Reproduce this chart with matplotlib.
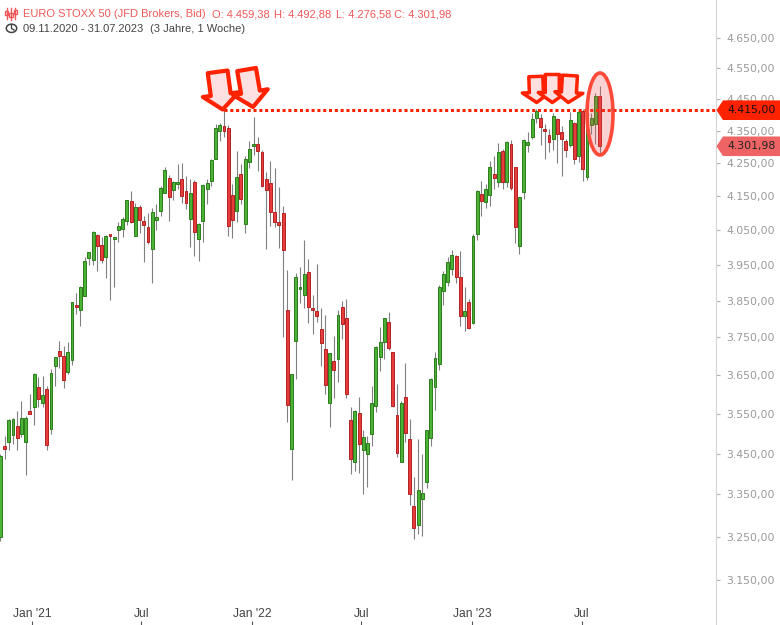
import matplotlib
matplotlib.use('Agg')
import matplotlib.pyplot as plt
import matplotlib.dates as mdates
from matplotlib.patches import Polygon, Ellipse, Circle
from matplotlib.ticker import FixedLocator, NullLocator, FuncFormatter
import numpy as np
import pandas as pd

# ---------------- data (weekly candles, EURO STOXX 50) ----------------
start_date = '2020-11-09'
opens = [3249, 3469, 3479, 3496, 3519, 3499, 3479, 3557, 3567, 3619,
         3578, 3614, 3512, 3674, 3714, 3701, 3658, 3690, 3839, 3825,
         3863, 3970, 3965, 4037, 4008, 3973, 4039, 4025, 4051, 4054,
         4077, 4136, 4034, 4119, 4077, 4060, 3996, 4080, 4107, 4160,
         4205, 4169, 4187, 4202, 4166, 4083, 4193, 4025, 4077, 4172,
         4196, 4263, 4349, 4365, 4359, 4154, 4107, 4217, 4069, 4254,
         4303, 4309, 4285, 4202, 4190, 4104, 4075, 4101, 3825, 3461,
         3740, 3884, 3866, 3931, 3828, 3822, 3773, 3719, 3578, 3687,
         3693, 3833, 3803, 3534, 3429, 3552, 3459, 3449, 3499, 3570,
         3698, 3738, 3792, 3711, 3547, 3429, 3593, 3487, 3322, 3277,
         3339, 3380, 3489, 3619, 3680, 3877, 3903, 3939, 3976, 3917,
         3808, 3847, 3789, 4039, 4157, 4133, 4154, 4217, 4193, 4288,
         4193, 4309, 4238, 4005, 4163, 4306, 4331, 4391, 4391, 4356,
         4337, 4325, 4388, 4346, 4319, 4306, 4375, 4272, 4413, 4208,
         4368, 4371, 4459.38]
highs = [3450, 3494, 3537, 3539, 3557, 3583, 3544, 3601, 3655, 3645,
         3648, 3622, 3666, 3698, 3740, 3727, 3738, 3847, 3872, 3892,
         3973, 3988, 4048, 4039, 4031, 4037, 4039, 4028, 4075, 4090,
         4139, 4166, 4130, 4125, 4092, 4101, 4116, 4128, 4181, 4238,
         4214, 4196, 4248, 4251, 4211, 4202, 4199, 4072, 4187, 4202,
         4263, 4371, 4374, 4415, 4368, 4187, 4288, 4248, 4272, 4319,
         4394, 4331, 4291, 4223, 4257, 4235, 4178, 4122, 3936, 3653,
         3928, 3945, 4022, 3967, 3866, 3953, 3830, 3811, 3709, 3754,
         3825, 3850, 3855, 3567, 3560, 3593, 3509, 3494, 3622, 3727,
         3778, 3803, 3820, 3711, 3627, 3583, 3682, 3537, 3393, 3487,
         3449, 3509, 3643, 3711, 3894, 3933, 3973, 3993, 3979, 3990,
         3889, 3855, 4040, 4169, 4196, 4187, 4257, 4272, 4312, 4294,
         4319, 4322, 4238, 4148, 4325, 4346, 4406, 4418, 4403, 4371,
         4356, 4406, 4391, 4365, 4325, 4409, 4378, 4415, 4419, 4410,
         4406, 4469, 4492.88]
lows = [3240, 3437, 3459, 3474, 3459, 3491, 3398, 3549, 3522, 3567,
        3567, 3459, 3499, 3622, 3669, 3617, 3653, 3677, 3814, 3781,
        3863, 3950, 3950, 3933, 3956, 3914, 3852, 3889, 4016, 4031,
        4066, 4072, 4034, 4042, 3959, 4010, 3900, 4051, 4092, 4160,
        4077, 4139, 4172, 4130, 4113, 4002, 3976, 3962, 4016, 4128,
        4181, 4263, 4319, 4331, 4034, 4028, 4075, 4128, 4042, 4235,
        4275, 4226, 4178, 3996, 4063, 4060, 3999, 3751, 3529, 3385,
        3640, 3844, 3830, 3789, 3759, 3792, 3674, 3601, 3517, 3591,
        3632, 3746, 3591, 3400, 3407, 3402, 3351, 3367, 3469, 3554,
        3661, 3693, 3716, 3567, 3442, 3429, 3479, 3325, 3244, 3256,
        3251, 3366, 3469, 3560, 3664, 3839, 3892, 3922, 3900, 3781,
        3767, 3773, 3787, 4022, 4092, 4116, 4122, 4172, 4178, 4172,
        4178, 4169, 4013, 3982, 4142, 4285, 4325, 4375, 4306, 4263,
        4285, 4291, 4250, 4211, 4269, 4300, 4248, 4254, 4196, 4200,
        4340, 4309, 4276.58]
closes = [3444, 3461, 3534, 3537, 3489, 3539, 3539, 3549, 3653, 3588,
          3598, 3471, 3656, 3698, 3701, 3637, 3711, 3847, 3833, 3889,
          3962, 3988, 4045, 4005, 3965, 4034, 4034, 4028, 4063, 4084,
          4139, 4075, 4119, 4080, 4066, 4016, 4104, 4089, 4175, 4229,
          4148, 4193, 4193, 4151, 4130, 4160, 4045, 4069, 4184, 4190,
          4260, 4359, 4368, 4349, 4063, 4080, 4208, 4142, 4263, 4294,
          4308, 4288, 4181, 4169, 4104, 4075, 4066, 3993, 3573, 3653,
          3917, 3889, 3925, 3833, 3825, 3808, 3735, 3624, 3709, 3664,
          3811, 3787, 3601, 3437, 3557, 3474, 3491, 3476, 3578, 3724,
          3738, 3803, 3722, 3570, 3451, 3578, 3502, 3351, 3270, 3361,
          3353, 3509, 3640, 3695, 3889, 3925, 3959, 3979, 3917, 3808,
          3822, 3776, 4034, 4166, 4136, 4172, 4238, 4205, 4285, 4193,
          4316, 4175, 4060, 4148, 4322, 4316, 4388, 4413, 4362, 4349,
          4315, 4397, 4340, 4325, 4291, 4384, 4263, 4409, 4232, 4406,
          4391, 4460, 4301.98]

resistance = 4415.00
resistance_from = 53          # index of the Nov 2021 high
last_close = closes[-1]
ytick_values = [3150, 3250, 3350, 3450, 3550, 3650, 3750, 3850, 3950,
                4050, 4150, 4250, 4350, 4450, 4550, 4650]
xtick_dates = ['2021-01-01', '2021-07-01', '2022-01-01', '2022-07-01',
               '2023-01-01', '2023-07-01']
xtick_labels = ["Jan '21", 'Jul', "Jan '22", 'Jul', "Jan '23", 'Jul']
title = 'EURO STOXX 50 (JFD Brokers, Bid)'
subtitle_range = '09.11.2020 - 31.07.2023'
subtitle_len = '(3 Jahre, 1 Woche)'

# ---------------- helpers ----------------
W, H = 780, 625


def de(v):
    return f"{v:,.2f}".replace(',', 'X').replace('.', ',').replace('X', '.')


def fx(px):
    return px / W


def fy(py):
    return 1 - py / H


fig = plt.figure(figsize=(W / 100, H / 100), dpi=100)
fig.patch.set_facecolor('white')
ax = fig.add_axes([0, 0, 716 / W, 1])
ax.set_facecolor('white')

dates = pd.date_range(start_date, periods=len(opens), freq='7D')
x = mdates.date2num(dates)
o = np.array(opens, float)
h = np.array(highs, float)
l = np.array(lows, float)
c = np.array(closes, float)
up = c >= o

ax.set_yscale('log')
ax.set_xlim(x[0] - 0.5, x[0] + 1187)
ax.set_ylim(3050.1, 4778.7)

# wicks
ax.vlines(x, l, h, color='#808080', linewidth=0.8, zorder=2)
# bodies
bottom = np.minimum(o, c)
height = np.maximum(np.abs(c - o), bottom * 0.0012)
ax.bar(x[up], height[up], bottom=bottom[up], width=4.8,
       color='#4bb236', edgecolor='#2c7d1d', linewidth=0.7, zorder=3)
ax.bar(x[~up], height[~up], bottom=bottom[~up], width=4.8,
       color='#e63c3c', edgecolor='#b42222', linewidth=0.7, zorder=3)

# resistance dotted line
ax.plot([x[resistance_from], ax.get_xlim()[1]], [resistance, resistance],
        color='#ff2200', linewidth=2.2, linestyle=(0, (1.0, 0.9)),
        dash_capstyle='butt', zorder=4, clip_on=False)

# axes styling
for s in ['top', 'left', 'bottom']:
    ax.spines[s].set_visible(False)
ax.spines['right'].set_color('#d4d4d4')
ax.spines['right'].set_linewidth(0.8)

ax.yaxis.tick_right()
ax.yaxis.set_major_locator(FixedLocator(ytick_values))
ax.yaxis.set_minor_locator(NullLocator())
ax.yaxis.set_major_formatter(FuncFormatter(lambda v, p: de(v)))
ax.tick_params(axis='y', which='major', direction='out', length=3,
               width=0.8, color='#b0b0b0', labelcolor='#9a9a9a',
               labelsize=7.8, pad=4.2)
for t in ax.get_yticklabels():
    t.set_fontfamily('DejaVu Sans')

xt = mdates.date2num(pd.to_datetime(xtick_dates))
ax.xaxis.set_major_locator(FixedLocator(xt))
ax.xaxis.set_minor_locator(NullLocator())
ax.tick_params(axis='x', which='major', direction='in', length=3,
               width=0.8, color='#555555', labelbottom=False)
for xv, lab in zip(xt, xtick_labels):
    ax.text(xv, fy(614), lab, transform=ax.get_xaxis_transform(),
            ha='center', va='center', fontsize=8.7, color='#444444',
            family='Liberation Sans')

fig.canvas.draw()


def price_py(p):
    return H - ax.transData.transform((x[0], p))[1]


# price tags on the right
def tag(price, face, txtcolor):
    yc = price_py(price)
    pts = [(716.5, yc), (723, yc - 9.8), (780, yc - 9.8),
           (780, yc + 9.8), (723, yc + 9.8)]
    poly = Polygon([(fx(a), fy(b)) for a, b in pts], closed=True,
                   transform=fig.transFigure, facecolor=face,
                   edgecolor='none', zorder=10)
    fig.add_artist(poly)
    fig.text(fx(727), fy(yc), de(price), ha='left', va='center',
             fontsize=7.8, color=txtcolor, family='DejaVu Sans', zorder=11)


tag(resistance, '#ff2200', '#111111')
tag(last_close, '#ee6464', '#222222')


# hand drawn arrows
def arrow(tip, theta_deg, L, sw, hw, hl, lw):
    th = np.radians(theta_deg)
    d = np.array([-np.sin(th), -np.cos(th)])   # towards arrow top
    p = np.array([np.cos(th), -np.sin(th)])    # perpendicular (to the right)
    t = np.array(tip, float)
    local = [(0, 0), (hl, hw / 2), (hl, sw / 2), (L, sw / 2),
             (L, -sw / 2), (hl, -sw / 2), (hl, -hw / 2)]
    pts = [t + u * d + v * p for u, v in local]
    poly = Polygon([(fx(a), fy(b)) for a, b in pts], closed=True,
                   transform=fig.transFigure, facecolor='#ffe0e0',
                   edgecolor='#ff2200', linewidth=lw, joinstyle='round',
                   zorder=8)
    fig.add_artist(poly)


arrow((222.7, 109.5), 7.6, 38, 20, 36, 15, 3.0)
arrow((253.0, 107.0), 9.7, 38, 19, 35, 15, 3.0)
arrow((536.7, 102.5), 2.0, 26, 14, 28, 10, 2.5)
arrow((552.3, 102.5), 0.0, 28, 14, 28, 10, 2.5)
arrow((568.3, 102.5), -3.5, 27, 15, 28, 10, 2.5)

# highlight ellipse
ell = Ellipse((fx(600), fy(114)), 26 / W, 82 / H, angle=0,
              transform=fig.transFigure, facecolor=(0.94, 0.31, 0.31, 0.25),
              edgecolor='#ff4a3a', linewidth=2.6, zorder=9)
fig.add_artist(ell)

# header
hdr_col = '#f05858'
fig.text(fx(23), fy(17.3), title, ha='left', va='baseline', fontsize=8,
         color=hdr_col, family='Liberation Sans')
ohlc = [('O', opens[-1], 212), ('H', highs[-1], 274),
        ('L', lows[-1], 336), ('C', closes[-1], 394)]
for k, v, px in ohlc:
    fig.text(fx(px), fy(17.3), f'{k}: {de(v)}', ha='left', va='baseline',
             fontsize=8, color=hdr_col, family='Liberation Sans')
fig.text(fx(23), fy(32.3), subtitle_range, ha='left', va='baseline',
         fontsize=8, color='#444444', family='Liberation Sans')
fig.text(fx(150), fy(32.3), subtitle_len, ha='left', va='baseline',
         fontsize=8, color='#444444', family='Liberation Sans')

# candlestick icon
for cx, (b0, b1), (w0, w1) in [(6.5, (11, 15), (8, 19)),
                               (11, (12.5, 17), (8, 19.5)),
                               (15.5, (10, 14), (7.5, 18.5))]:
    fig.add_artist(plt.Line2D([fx(cx), fx(cx)], [fy(w0), fy(w1)],
                              color=hdr_col, linewidth=1.0,
                              transform=fig.transFigure))
    fig.add_artist(plt.Rectangle((fx(cx - 1.6), fy(b1)), 3.2 / W,
                                 (b1 - b0) / H, transform=fig.transFigure,
                                 facecolor='white', edgecolor=hdr_col,
                                 linewidth=1.0))
# clock icon
fig.add_artist(Circle((fx(11.5), fy(28.3)), 5.2 / W,
                      transform=fig.transFigure, facecolor='none',
                      edgecolor='#444444', linewidth=1.1))
fig.add_artist(plt.Line2D([fx(11.5), fx(11.5), fx(14)],
                          [fy(25), fy(28.5), fy(30)],
                          color='#444444', linewidth=1.0,
                          transform=fig.transFigure))

fig.savefig('out.png', dpi=100, facecolor='white')
